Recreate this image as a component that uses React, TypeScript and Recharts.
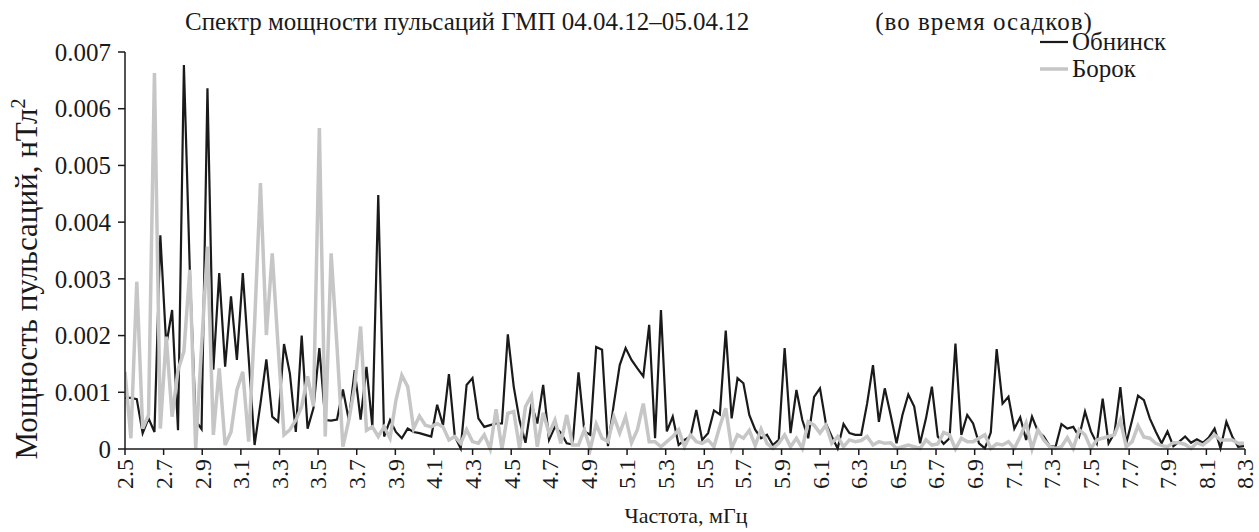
import { LineChart, Line, XAxis, YAxis } from "recharts";

// spectrum bins: 2.5 mHz start, ~0.0305 mHz resolution
const FREQ_START = 2.5;
const FREQ_STEP = 0.0305;

// power, units of 1e-3 nT^2
const obninsk = [
  0.9, 0.9, 0.88, 0.28, 0.54, 0.3, 3.77, 1.83, 2.45, 0.33,
  6.77, 3.16, 0.5, 0.35, 6.36, 1.4, 3.1, 1.45, 2.69, 1.57,
  3.1, 1.6, 0.07, 0.8, 1.58, 0.57, 0.48, 1.85, 1.33, 0.3,
  2.0, 0.36, 0.72, 1.78, 0.51, 0.5, 0.52, 1.05, 0.51, 1.39,
  0.52, 1.45, 0.39, 4.48, 0.22, 0.51, 0.3, 0.19, 0.36, 0.3,
  0.28, 0.25, 0.22, 0.78, 0.42, 1.32, 0.22, 0.01, 1.13, 1.25,
  0.54, 0.39, 0.42, 0.45, 0.45, 2.02, 1.1, 0.5, 0.11, 0.8,
  0.45, 1.13, 0.16, 0.39, 0.29, 0.1, 0.08, 1.35, 0.31, 0.25,
  1.8, 1.75, 0.05, 0.8, 1.48, 1.78, 1.57, 1.42, 1.28, 2.19,
  0.19, 2.45, 0.31, 0.57, 0.07, 0.16, 0.22, 0.69, 0.16, 0.28,
  0.68, 0.61, 2.09, 0.54, 1.25, 1.16, 0.6, 0.34, 0.19, 0.25,
  0.07, 0.16, 1.78, 0.28, 1.04, 0.51, 0.19, 0.92, 1.07, 0.45,
  0.22, 0.01, 0.44, 0.28, 0.25, 0.25, 0.8, 1.48, 0.48, 1.07,
  0.6, 0.1, 0.6, 0.96, 0.75, 0.1, 0.54, 1.1, 0.22, 0.09,
  0.19, 1.86, 0.25, 0.6, 0.45, 0.1, 0.01, 0.29, 1.76, 0.8,
  0.92, 0.36, 0.56, 0.16, 0.57, 0.31, 0.22, 0.05, 0.04, 0.44,
  0.36, 0.39, 0.22, 0.66, 0.31, 0.1, 0.89, 0.1, 0.28, 1.09,
  0.1, 0.51, 0.94, 0.86, 0.54, 0.31, 0.1, 0.31, 0.05, 0.13,
  0.22, 0.11, 0.17, 0.11, 0.2, 0.36, 0.01, 0.48, 0.22, 0.04,
  0.05,
];

const borok = [
  1.36, 0.19, 2.95, 0.36, 0.6, 6.63, 0.36, 1.98, 0.57, 1.39,
  1.72, 3.16, 0.01, 1.8, 3.57, 0.25, 1.42, 0.07, 0.3, 1.04,
  1.36, 0.13, 2.2, 4.69, 2.01, 3.45, 1.8, 0.25, 0.34, 0.51,
  0.75, 1.28, 0.75, 5.66, 0.22, 3.45, 1.8, 0.04, 0.51, 1.1,
  2.16, 0.33, 0.39, 0.22, 0.39, 0.19, 0.86, 1.3, 1.1, 0.36,
  0.58, 0.42, 0.39, 0.45, 0.39, 0.16, 0.22, 0.1, 0.34, 0.13,
  0.1, 0.25, 0.0, 0.7, 0.0, 0.63, 0.66, 0.01, 0.75, 0.94,
  0.04, 0.64, 0.28, 0.51, 0.1, 0.6, 0.07, 0.07, 0.34, 0.0,
  0.44, 0.19, 0.13, 0.57, 0.28, 0.57, 0.11, 0.34, 0.8, 0.13,
  0.13, 0.04, 0.13, 0.22, 0.34, 0.04, 0.25, 0.13, 0.1, 0.16,
  0.04, 0.4, 0.72, 0.01, 0.25, 0.19, 0.33, 0.06, 0.35, 0.1,
  0.01, 0.1, 0.25, 0.04, 0.19, 0.01, 0.48, 0.42, 0.28, 0.42,
  0.1, 0.22, 0.04, 0.16, 0.13, 0.15, 0.22, 0.07, 0.13, 0.1,
  0.11, 0.01, 0.04, 0.07, 0.04, 0.01, 0.16, 0.07, 0.09, 0.29,
  0.25, 0.0, 0.19, 0.13, 0.13, 0.19, 0.25, 0.01, 0.09, 0.07,
  0.13, 0.01, 0.22, 0.46, 0.0, 0.34, 0.16, 0.04, 0.01, 0.04,
  0.2, 0.01, 0.34, 0.25, 0.01, 0.16, 0.19, 0.22, 0.25, 0.51,
  0.04, 0.13, 0.41, 0.21, 0.19, 0.1, 0.06, 0.04, 0.11, 0.11,
  0.08, 0.01, 0.11, 0.07, 0.15, 0.25, 0.16, 0.16, 0.16, 0.1,
  0.1,
];

const xTicks = [
  2.5, 2.7, 2.9, 3.1, 3.3, 3.5, 3.7, 3.9, 4.1, 4.3, 4.5, 4.7, 4.9, 5.1, 5.3,
  5.5, 5.7, 5.9, 6.1, 6.3, 6.5, 6.7, 6.9, 7.1, 7.3, 7.5, 7.7, 7.9, 8.1, 8.3,
];
const yTicks = [0, 0.001, 0.002, 0.003, 0.004, 0.005, 0.006, 0.007];

const data = obninsk.map((v, i) => ({
  f: FREQ_START + i * FREQ_STEP,
  obninsk: v / 1000,
  borok: borok[i] / 1000,
}));

const FONT = "Liberation Serif, DejaVu Serif, serif";
const INK = "#1a1a1a";
const GREY = "#c6c6c6";

function XTick({ x, y, payload }: any) {
  return (
    <text
      x={x}
      y={y}
      transform={`rotate(-90 ${x} ${y})`}
      textAnchor="end"
      dy="0.35em"
      fill={INK}
      style={{ fontFamily: FONT, fontSize: 24 }}
    >
      {payload.value.toFixed(1)}
    </text>
  );
}

function YTick({ x, y, payload }: any) {
  const v = payload.value;
  return (
    <text x={x} y={y} textAnchor="end" dy="0.35em" fill={INK} style={{ fontFamily: FONT, fontSize: 25 }}>
      {v === 0 ? "0" : v.toFixed(3)}
    </text>
  );
}

const legendRows = [
  { name: "Обнинск", color: INK, w: 2.2 },
  { name: "Борок", color: GREY, w: 3.5 },
];

export default function App() {
  return (
    <div
      style={{
        position: "absolute",
        left: 0,
        top: 0,
        width: 1259,
        height: 532,
        background: "#fff",
        fontFamily: FONT,
        color: INK,
      }}
    >
      <div style={{ position: "absolute", left: 185, top: 7, fontSize: 25, lineHeight: "30px", whiteSpace: "nowrap" }}>
        Спектр мощности пульсаций ГМП 04.04.12–05.04.12
      </div>
      <div
        style={{
          position: "absolute",
          left: 984,
          top: 7,
          transform: "translateX(-50%)",
          fontSize: 25,
          lineHeight: "30px",
          letterSpacing: 1,
          whiteSpace: "nowrap",
        }}
      >
        (во время осадков)
      </div>
      <div style={{ position: "absolute", left: 1040, top: 28, fontSize: 25 }}>
        {legendRows.map((r) => (
          <div key={r.name} style={{ display: "flex", alignItems: "center", height: 27 }}>
            <svg width={30} height={10} style={{ marginRight: 2 }}>
              <line x1={0} y1={5} x2={28} y2={5} stroke={r.color} strokeWidth={r.w} />
            </svg>
            <span>{r.name}</span>
          </div>
        ))}
      </div>
      <div
        style={{
          position: "absolute",
          left: 26,
          top: 279,
          transform: "translate(-50%, -50%) rotate(-90deg)",
          fontSize: 31,
          whiteSpace: "nowrap",
        }}
      >
        Мощность пульсаций, нТл<sup style={{ fontSize: 20 }}>2</sup>
      </div>
      <div
        style={{
          position: "absolute",
          left: 686,
          top: 516,
          transform: "translate(-50%, -50%)",
          fontSize: 22,
          whiteSpace: "nowrap",
        }}
      >
        Частота, мГц
      </div>
      <LineChart width={1259} height={532} data={data} margin={{ top: 52, right: 14, bottom: 0, left: 0 }}>
        <XAxis
          dataKey="f"
          type="number"
          domain={[2.5, 8.3]}
          ticks={xTicks}
          allowDataOverflow
          height={83}
          tick={<XTick />}
          tickSize={6}
          tickMargin={4}
          stroke={INK}
          strokeWidth={1.5}
          interval={0}
        />
        <YAxis
          type="number"
          domain={[0, 0.007]}
          ticks={yTicks}
          width={125}
          tickSize={7}
          tickMargin={7}
          stroke={INK}
          strokeWidth={1.5}
          tick={<YTick />}
          interval={0}
        />
        <Line
          type="linear"
          dataKey="obninsk"
          name="Обнинск"
          stroke={INK}
          strokeWidth={2.2}
          dot={false}
          isAnimationActive={false}
        />
        <Line
          type="linear"
          dataKey="borok"
          name="Борок"
          stroke={GREY}
          strokeWidth={3.5}
          dot={false}
          isAnimationActive={false}
        />
      </LineChart>
    </div>
  );
}
